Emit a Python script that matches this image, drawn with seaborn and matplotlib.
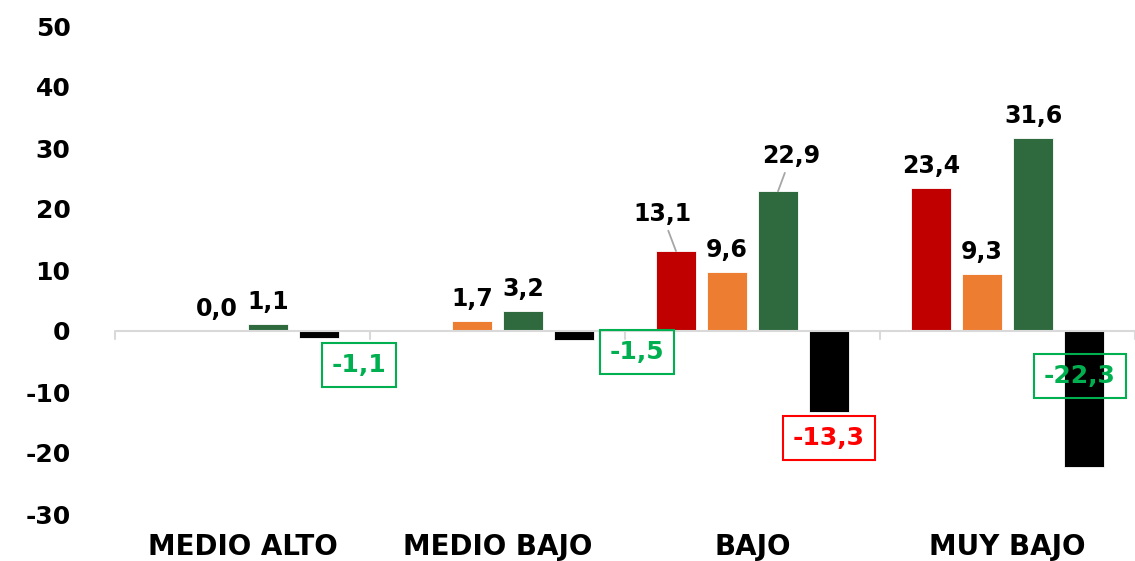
import matplotlib
matplotlib.use("Agg")
import matplotlib.pyplot as plt
import numpy as np
import pandas as pd
import seaborn as sns

# ---------------- data ----------------
categories = ["MEDIO ALTO", "MEDIO BAJO", "BAJO", "MUY BAJO"]
series_names = ["Serie 1", "Serie 2", "Serie 3", "Serie 4"]
serie_roja = [np.nan, np.nan, 13.1, 23.4]
serie_naranja = [0.0, 1.7, 9.6, 9.3]
serie_verde = [1.1, 3.2, 22.9, 31.6]
serie_negra = [-1.1, -1.5, -13.3, -22.3]
y_ticks = [-30, -20, -10, 0, 10, 20, 30, 40, 50]

# ---------------- styles ----------------
colors = ["#C00000", "#ED7D31", "#2F6A3F", "#000000"]
neg_label_colors = ["#00B050", "#00B050", "#FF0000", "#00B050"]
# label offsets in pixels (dx, dy) relative to bar end
pos_label_offsets = {(2, 0): (-14, 30), (2, 2): (13, 28)}
neg_label_offsets = [(40, -27), (63, -12), (0, -26), (-4, 91)]

sns.set_theme(style="white")
plt.rcParams["font.family"] = ["DejaVu Sans"]
plt.rcParams["axes.unicode_minus"] = False

rows = []
for s, vals in zip(series_names, [serie_roja, serie_naranja, serie_verde, serie_negra]):
    for c, v in zip(categories, vals):
        rows.append({"categoria": c, "serie": s, "valor": v})
df = pd.DataFrame(rows)

fig = plt.figure(figsize=(11.35, 5.61), dpi=100)
ax = fig.add_axes([115 / 1135, 47 / 561, 1 - 115 / 1135, (514 - 26) / 561])

sns.barplot(data=df, x="categoria", y="valor", hue="serie",
            order=categories, hue_order=series_names, palette=colors,
            width=0.8, gap=0.2, edgecolor="white", linewidth=0.6,
            legend=False, ax=ax, errorbar=None, saturation=1)

ax.set_ylim(-30, 50)
ax.set_xlim(-0.5, 3.5)
ax.set_yticks(y_ticks)
ax.set_yticklabels([str(t) for t in y_ticks], fontsize=18, fontweight="bold",
                   color="black")
ax.tick_params(axis="y", length=0, pad=32)
ax.tick_params(axis="x", length=0, pad=14)
for lbl in ax.get_xticklabels():
    lbl.set_fontsize(20)
    lbl.set_fontweight("bold")
    lbl.set_color("black")
ax.set_xlabel("")
ax.set_ylabel("")
for sp in ax.spines.values():
    sp.set_visible(False)

# zero axis line with category boundary ticks
ax.axhline(0, color="#D9D9D9", lw=1.5, zorder=1)
for b in np.arange(-0.5, 4.0, 1.0):
    ax.plot([b, b], [0, -1.3], color="#D9D9D9", lw=1.5, zorder=1, clip_on=False)

def fmt(v):
    return f"{v:.1f}".replace(".", ",")

for si, cont in enumerate(ax.containers):
    for bar in cont:
        h = bar.get_height()
        if np.isnan(h):
            continue
        xc = bar.get_x() + bar.get_width() / 2
        ci = int(round(xc))
        if si < 3:
            dx, dy = pos_label_offsets.get((ci, si), (0, 15))
            arrow = None
            if (ci, si) in pos_label_offsets:
                arrow = dict(arrowstyle="-", color="#A6A6A6", lw=1.3,
                             shrinkA=1, shrinkB=0)
            ax.annotate(fmt(h), xy=(xc, h), xytext=(dx, dy),
                        textcoords="offset pixels", ha="center", va="baseline",
                        fontsize=17, fontweight="bold", color="black",
                        arrowprops=arrow, zorder=5)
        else:
            dx, dy = neg_label_offsets[ci]
            col = neg_label_colors[ci]
            ax.annotate(fmt(h), xy=(xc, h), xytext=(dx, dy),
                        textcoords="offset pixels", ha="center", va="center",
                        fontsize=18, fontweight="bold", color=col,
                        bbox=dict(boxstyle="square,pad=0.4", fc="none",
                                  ec=col, lw=1.5), zorder=5)

fig.savefig("out.png", dpi=100)
